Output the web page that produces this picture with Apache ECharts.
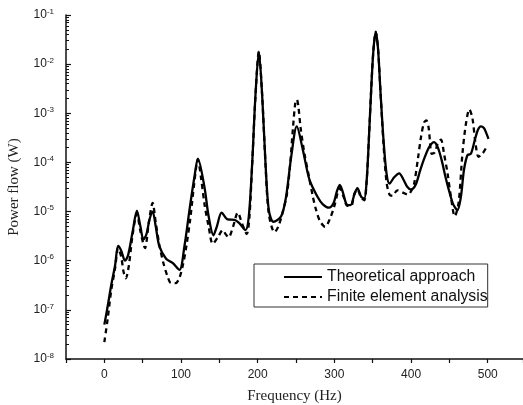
<!DOCTYPE html>
<html>
<head>
<meta charset="utf-8">
<script src="https://cdn.jsdelivr.net/npm/echarts@6/dist/echarts.min.js"></script>
<style>
  html, body { margin: 0; padding: 0; background: #fff; }
  #chart { width: 523px; height: 405px; }
</style>
</head>
<body>
<div id="chart"></div>
<script>
// Theoretical approach (solid)
const theoFreq = [0, 4, 9, 14, 18, 22, 27, 31, 37, 42.5, 47, 51, 55, 59, 63, 67, 71.8, 80.5, 89, 98,
  104.4, 111, 117.5, 122, 130.5, 136, 142.3, 146.6, 153, 161, 169.7, 176, 184, 188.4, 192.8, 197, 201.5,
  205.9, 210.2, 214.5, 220.6, 230.6, 237, 243.7, 251, 258.9, 267.6, 278, 285, 293, 299, 303, 307, 311,
  316, 321, 326, 330, 335, 339, 342, 345, 348, 351, 354, 357, 360, 364, 368, 372, 378, 384.5, 390, 395,
  400, 406, 412, 418, 424, 430, 435, 440, 445, 450, 455, 460.5, 465, 469, 473.5, 478, 483, 487, 491,
  495, 498, 501];
const theoPower = [5e-8, 1.1e-7, 3.2e-7, 8e-7, 2e-6, 1.6e-6, 1e-6, 1.3e-6, 4e-6, 1.05e-5, 5e-6, 2.7e-6,
  3.5e-6, 7e-6, 1e-5, 5e-6, 1.95e-6, 1.1e-6, 9e-7, 6.5e-7,
  1.95e-6, 1.07e-5, 5.1e-5, 1.2e-4, 3.2e-5, 8e-6, 3.3e-6, 4.9e-6, 9.5e-6, 6.9e-6, 6.8e-6, 5.8e-6, 4.2e-6,
  8e-6, 9.5e-5, 2.2e-3, 1.8e-2,
  2.2e-3, 9.5e-5, 1.07e-5, 6.2e-6, 8e-6, 2e-5, 1.3e-4, 5.4e-4, 1.8e-4, 4.4e-5, 2e-5, 1.4e-5, 1.2e-5,
  1.5e-5, 2.5e-5, 3.5e-5, 2.5e-5,
  1.4e-5, 1.35e-5, 2.2e-5, 3e-5, 2e-5, 1.85e-5, 4e-5, 3e-4, 3e-3, 2e-2, 4.6e-2, 2e-2, 3e-3, 3e-4, 6e-5,
  3.7e-5, 5e-5, 6e-5, 4.5e-5, 3.2e-5,
  2.8e-5, 3.5e-5, 7e-5, 1.3e-4, 2.1e-4, 2.6e-4, 2e-4, 1.1e-4, 5e-5, 2.5e-5, 1.4e-5, 1.07e-5, 2e-5, 7e-5,
  1.4e-4, 1.5e-4, 2.8e-4, 4.5e-4, 5.4e-4,
  5e-4, 4e-4, 3e-4];

// Finite element analysis (dashed)
const feaFreq = [0, 4, 9, 14, 18, 22, 25, 28, 32, 37, 42.5, 47, 53, 58, 63, 67, 72, 77, 82, 87, 93, 98,
  103, 107, 112, 117, 122, 126, 131, 136, 141.4, 148, 154.5, 158, 162, 168, 174, 180, 185.7, 189, 192.8,
  197, 201.5, 205.9, 210.2, 214.5, 222, 227, 232.8, 238, 242, 246, 249, 251, 253, 256, 261, 267, 272, 276,
  281, 288, 294, 300, 307, 312, 317, 322, 326, 330, 335, 339, 342, 345, 348, 351, 354, 357, 360, 364, 368,
  372, 376, 382, 390, 396, 400, 404, 409, 413, 417, 420, 423, 427, 431, 435, 439, 443, 447.6, 452, 457,
  462, 467, 471.5, 476, 480, 484, 488, 493, 498];
const feaPower = [2.2e-8, 6e-8, 2.5e-7, 7e-7, 1.8e-6, 1.2e-6, 6e-7, 4.4e-7, 8e-7, 3.5e-6, 9e-6, 4e-6,
  1.8e-6, 6e-6, 1.5e-5, 6e-6, 2e-6, 9e-7, 5e-7, 3.5e-7, 3.5e-7, 4.5e-7,
  9e-7, 2e-6, 7e-6, 3.5e-5, 1.15e-4, 5e-5, 1.3e-5, 5e-6, 2.2e-6, 3e-6, 4.2e-6, 3.5e-6, 3e-6, 5e-6, 9.5e-6,
  5.5e-6, 3.5e-6, 7e-6, 9e-5,
  2.1e-3, 1.8e-2, 2.2e-3, 9e-5, 9e-6, 3.8e-6, 5e-6, 1e-5, 2.2e-5, 8e-5, 5e-4, 1.6e-3, 1.9e-3, 1.4e-3,
  5e-4, 1.5e-4, 5e-5, 2e-5, 1.1e-5,
  6.5e-6, 4.9e-6, 7e-6, 1.3e-5, 3e-5, 2e-5, 1.3e-5, 1.3e-5, 2.3e-5, 2.8e-5, 1.9e-5, 1.7e-5, 4e-5, 3e-4,
  3e-3, 2e-2, 4.5e-2, 2e-2, 3e-3, 2.5e-4, 4e-5,
  2.2e-5, 2.1e-5, 2.7e-5, 2.4e-5, 2.2e-5, 2.6e-5, 3.7e-5, 1.2e-4, 3.3e-4, 6.5e-4, 7.2e-4, 5e-4, 1.5e-4,
  1.6e-4, 2.5e-4, 2.9e-4, 1.5e-4, 6e-5, 2e-5, 8e-6,
  1.5e-5, 1.5e-4, 6e-4, 1.2e-3, 8e-4, 2.5e-4, 1.3e-4, 1.5e-4, 2e-4];

const seriesNames = ['Theoretical approach', 'Finite element analysis'];

// decade ticks on the y axis are exponents -8 .. -1; minor ticks at 2..9 x 10^n
const decades = [-8, -7, -6, -5, -4, -3, -2];
const minorMultipliers = [2, 3, 4, 5, 6, 7, 8, 9];
const minorTickExp = [];
decades.forEach(d => minorMultipliers.forEach(m => minorTickExp.push(d + Math.log10(m))));

const pairs = (xs, ys) => xs.map((x, i) => [x, ys[i]]);

const chart = echarts.init(document.getElementById('chart'));

const option = {
  animation: false,
  backgroundColor: '#fff',
  grid: { left: 66, right: 0, top: 15, bottom: 46, outerBoundsMode: 'none', containLabel: false },
  legend: {
    data: seriesNames,
    orient: 'vertical',
    left: 254,
    top: 264,
    padding: [5, 0, 2, 29],
    itemWidth: 38,
    itemHeight: 14,
    itemGap: 4,
    borderColor: '#333',
    borderWidth: 1,
    borderRadius: 0,
    itemStyle: { opacity: 0 },
    textStyle: {
      fontFamily: 'Liberation Sans',
      fontSize: 15.8,
      lineHeight: 16,
      color: '#111'
    }
  },
  xAxis: {
    type: 'value',
    min: -50,
    max: 546,
    interval: 50,
    name: 'Frequency (Hz)',
    nameLocation: 'middle',
    nameGap: 30,
    nameTextStyle: { fontFamily: 'Liberation Serif', fontSize: 15, color: '#222' },
    splitLine: { show: false },
    axisLine: { onZero: false, lineStyle: { color: '#111', width: 1.5 } },
    axisTick: { inside: false, length: 4, lineStyle: { color: '#111', width: 1.2 } },
    axisLabel: {
      margin: 10,
      fontFamily: 'Liberation Sans',
      fontSize: 12,
      color: '#222',
      formatter: v => (v >= 0 && v % 100 === 0 ? String(v) : '')
    }
  },
  yAxis: [
    {
      type: 'log',
      logBase: 10,
      min: 1e-8,
      max: 1e-1,
      name: 'Power flow (W)',
      nameLocation: 'middle',
      nameGap: 44,
      nameTextStyle: { fontFamily: 'Liberation Serif', fontSize: 15, color: '#222' },
      splitLine: { show: false },
      axisLine: { onZero: false, lineStyle: { color: '#111', width: 1.5 } },
      axisTick: { inside: true, length: 5, lineStyle: { color: '#111', width: 1.2 } },
      axisLabel: {
        margin: 12,
        formatter: v => '{b|10}{s|' + Math.round(Math.log10(v)) + '}',
        rich: {
          b: { fontFamily: 'Liberation Sans', fontSize: 12, color: '#222' },
          s: { fontFamily: 'Liberation Sans', fontSize: 8, color: '#222', padding: [0, 0, 7, 0] }
        }
      }
    },
    {
      type: 'value',
      position: 'left',
      min: -8,
      max: -1,
      axisLine: { show: false, onZero: false },
      splitLine: { show: false },
      axisLabel: { show: false },
      axisTick: {
        inside: true,
        length: 3,
        customValues: minorTickExp,
        lineStyle: { color: '#111', width: 1 }
      }
    }
  ],
  series: [
    {
      name: seriesNames[0],
      type: 'line',
      yAxisIndex: 0,
      data: pairs(theoFreq, theoPower),
      smooth: 0.3,
      symbol: 'none',
      itemStyle: { color: '#000' },
      lineStyle: { color: '#000', width: 2.3, type: 'solid' }
    },
    {
      name: seriesNames[1],
      type: 'line',
      yAxisIndex: 0,
      data: pairs(feaFreq, feaPower),
      smooth: 0.3,
      symbol: 'none',
      itemStyle: { color: '#000' },
      lineStyle: { color: '#000', width: 2.3, type: [5, 4] }
    }
  ]
};

chart.setOption(option);
</script>
</body>
</html>
